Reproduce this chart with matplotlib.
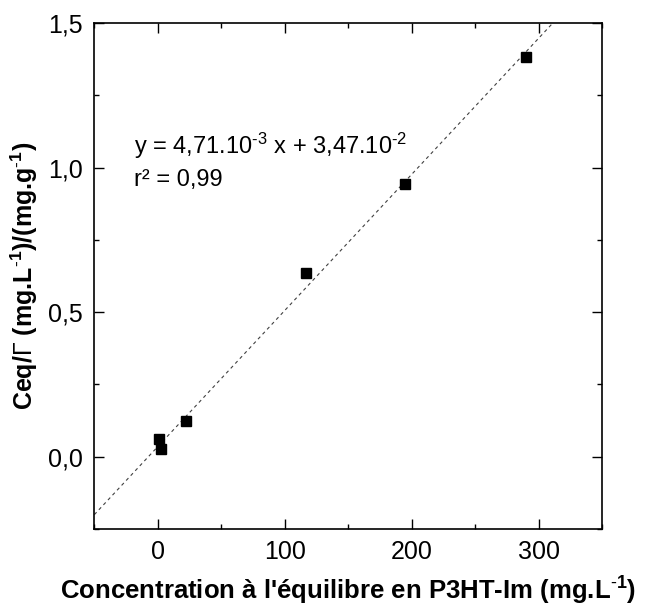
import matplotlib
matplotlib.use('Agg')
import matplotlib.pyplot as plt
import numpy as np
from matplotlib.ticker import MultipleLocator, FuncFormatter

plt.rcParams['font.family'] = ['Liberation Sans', 'DejaVu Sans']
plt.rcParams['mathtext.fontset'] = 'custom'
plt.rcParams['mathtext.rm'] = 'Liberation Sans'
plt.rcParams['mathtext.it'] = 'DejaVu Serif:italic:bold'
plt.rcParams['mathtext.bf'] = 'Liberation Sans:bold'
plt.rcParams['mathtext.default'] = 'regular'

# données
ceq = [0.8, 2.8, 21.9, 117.0, 194.5, 289.7]
ceq_gamma = [0.062, 0.027, 0.124, 0.634, 0.943, 1.383]
pente = 4.71e-3
ordonnee = 3.47e-2
x_ticks = [0, 100, 200, 300]
y_ticks = [0.0, 0.5, 1.0, 1.5]

fig = plt.figure(figsize=(6.46, 6.10), dpi=100)
ax = fig.add_axes([0.146, 0.133, 0.786, 0.829])

xfit = np.array([-50, 350])
ax.plot(xfit, pente * xfit + ordonnee, color='0.25', lw=0.8,
        linestyle=(0, (3, 3)), zorder=1)
ax.plot(ceq, ceq_gamma, 's', color='black', markersize=7.5, zorder=2)

ax.set_xlim(-50, 350)
ax.set_ylim(-0.25, 1.5)
ax.set_xticks(x_ticks)
ax.set_yticks(y_ticks)
ax.xaxis.set_minor_locator(MultipleLocator(50))
ax.yaxis.set_minor_locator(MultipleLocator(0.25))
ax.yaxis.set_major_formatter(FuncFormatter(lambda v, p: f'{v:.1f}'.replace('.', ',')))
ax.tick_params(which='both', direction='in', top=True, right=True,
               labelsize=18, width=1.0)
ax.tick_params(which='major', length=7, pad=8)
ax.tick_params(which='minor', length=3.6)
for s in ax.spines.values():
    s.set_linewidth(1.2)

ax.text(-19, 1.049, r'y = 4,71.10$^{\text{-}3}$ x + 3,47.10$^{\text{-}2}$', fontsize=17, va='baseline')
ax.text(-19, 0.937, 'r² = 0,99', fontsize=17, va='baseline')

ax.set_xlabel(r"Concentration à l'équilibre en P3HT-Im (mg.L$^{\text{-}1}$)",
              fontsize=18.5, fontweight='bold', labelpad=8)
ax.set_ylabel(r'Ceq/$\mathit{Γ}$ (mg.L$^{\text{-}1}$)/(mg.g$^{\text{-}1}$)',
              fontsize=18, fontweight='bold', labelpad=6)

fig.savefig('out.png', dpi=100)
